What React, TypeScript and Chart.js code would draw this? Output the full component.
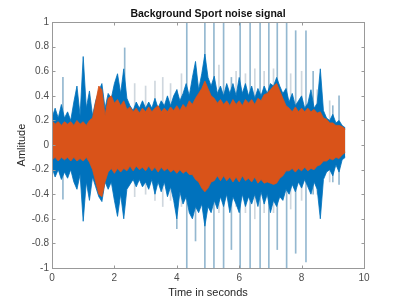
import React, { useEffect, useRef } from 'react';
import { Chart, registerables } from 'chart.js';

Chart.register(...registerables);

// Time bins (seconds)
const times = [
  0.0, 0.1, 0.2, 0.3, 0.4, 0.5, 0.6, 0.7, 0.8, 0.9,
  1.0, 1.1, 1.2, 1.3, 1.4, 1.5, 1.6, 1.7, 1.8, 1.9,
  2.0, 2.1, 2.2, 2.3, 2.4, 2.5, 2.6, 2.7, 2.8, 2.9,
  3.0, 3.1, 3.2, 3.3, 3.4, 3.5, 3.6, 3.7, 3.8, 3.9,
  4.0, 4.1, 4.2, 4.3, 4.4, 4.5, 4.6, 4.7, 4.8, 4.9,
  5.0, 5.1, 5.2, 5.3, 5.4, 5.5, 5.6, 5.7, 5.8, 5.9,
  6.0, 6.1, 6.2, 6.3, 6.4, 6.5, 6.6, 6.7, 6.8, 6.9,
  7.0, 7.1, 7.2, 7.3, 7.4, 7.5, 7.6, 7.7, 7.8, 7.9,
  8.0, 8.1, 8.2, 8.3, 8.4, 8.5, 8.6, 8.7, 8.8, 8.9,
  9.0, 9.1, 9.2, 9.3, 9.4,
];

// Blue signal envelope (max / min per bin)
const blueUpper = [
  0.22, 0.30, 0.22, 0.33, 0.22, 0.27, 0.20, 0.35, 0.48, 0.24,
  0.72, 0.30, 0.44, 0.24, 0.36, 0.44, 0.50, 0.30, 0.42, 0.38,
  0.50, 0.58, 0.42, 0.62, 0.38, 0.32, 0.28, 0.35, 0.30, 0.36,
  0.30, 0.35, 0.30, 0.38, 0.30, 0.36, 0.32, 0.40, 0.32, 0.40,
  0.45, 0.36, 0.42, 0.50, 0.40, 0.55, 0.68, 0.45, 0.58, 0.74,
  0.55, 0.48, 0.56, 0.42, 0.48, 0.40, 0.50, 0.42, 0.50, 0.40,
  0.55, 0.42, 0.50, 0.40, 0.48, 0.38, 0.46, 0.40, 0.48, 0.42,
  0.50, 0.48, 0.55, 0.48, 0.42, 0.46, 0.35, 0.42, 0.32, 0.36,
  0.40, 0.30, 0.34, 0.45, 0.30, 0.34, 0.62, 0.28, 0.22, 0.20,
  0.25, 0.18, 0.20, 0.16, 0.14,
];
const blueLower = [
  -0.18, -0.26, -0.20, -0.28, -0.22, -0.27, -0.20, -0.30, -0.36, -0.24,
  -0.62, -0.30, -0.45, -0.26, -0.34, -0.42, -0.46, -0.30, -0.36, -0.30,
  -0.45, -0.58, -0.40, -0.60, -0.36, -0.32, -0.28, -0.34, -0.28, -0.34,
  -0.30, -0.36, -0.28, -0.40, -0.30, -0.38, -0.30, -0.42, -0.34, -0.45,
  -0.60, -0.38, -0.48, -0.42, -0.55, -0.60, -0.50, -0.55, -0.48, -0.66,
  -0.50, -0.55, -0.45, -0.52, -0.42, -0.50, -0.40, -0.55, -0.42, -0.48,
  -0.55, -0.40, -0.50, -0.42, -0.48, -0.40, -0.50, -0.38, -0.48, -0.40,
  -0.55, -0.45, -0.50, -0.42, -0.45, -0.36, -0.40, -0.32, -0.38, -0.30,
  -0.35, -0.28, -0.34, -0.40, -0.30, -0.36, -0.60, -0.28, -0.22, -0.20,
  -0.25, -0.16, -0.22, -0.12, -0.10,
];

// Orange signal envelope (max / min per bin)
const orangeUpper = [
  0.20, 0.17, 0.19, 0.16, 0.19, 0.17, 0.19, 0.16, 0.20, 0.17,
  0.19, 0.16, 0.20, 0.22, 0.35, 0.48, 0.45, 0.24, 0.38, 0.40,
  0.34, 0.37, 0.32, 0.36, 0.29, 0.31, 0.27, 0.30, 0.26, 0.30,
  0.27, 0.31, 0.27, 0.30, 0.32, 0.27, 0.30, 0.27, 0.31, 0.28,
  0.32, 0.28, 0.33, 0.30, 0.36, 0.33, 0.38, 0.42, 0.46, 0.52,
  0.46, 0.40, 0.38, 0.34, 0.37, 0.33, 0.36, 0.32, 0.37, 0.33,
  0.36, 0.32, 0.37, 0.34, 0.37, 0.33, 0.38, 0.36, 0.41, 0.42,
  0.45, 0.48, 0.50, 0.44, 0.38, 0.32, 0.30, 0.27, 0.31, 0.27,
  0.30, 0.27, 0.30, 0.27, 0.29, 0.26, 0.27, 0.22, 0.21, 0.18,
  0.18, 0.16, 0.16, 0.15, 0.13,
];
const orangeLower = [
  -0.12, -0.10, -0.13, -0.10, -0.12, -0.10, -0.13, -0.10, -0.13, -0.11,
  -0.13, -0.10, -0.14, -0.20, -0.30, -0.40, -0.42, -0.30, -0.22, -0.19,
  -0.23, -0.19, -0.22, -0.19, -0.21, -0.17, -0.21, -0.17, -0.20, -0.18,
  -0.21, -0.17, -0.21, -0.18, -0.22, -0.18, -0.21, -0.19, -0.22, -0.20,
  -0.23, -0.20, -0.23, -0.21, -0.24, -0.24, -0.28, -0.30, -0.35, -0.38,
  -0.35, -0.30, -0.29, -0.25, -0.29, -0.25, -0.29, -0.26, -0.30, -0.26,
  -0.30, -0.25, -0.29, -0.27, -0.30, -0.26, -0.31, -0.28, -0.31, -0.30,
  -0.31, -0.32, -0.31, -0.27, -0.25, -0.21, -0.21, -0.19, -0.22, -0.19,
  -0.21, -0.18, -0.21, -0.19, -0.20, -0.17, -0.16, -0.13, -0.13, -0.11,
  -0.12, -0.10, -0.11, -0.08, -0.06,
];

// Isolated blue impulse spikes
const spikeTimes = [0.35, 2.33, 4.0, 4.32, 4.6, 4.9, 5.19, 5.5, 5.75, 6.03, 6.35, 6.67, 6.95, 7.22, 7.52, 7.81, 8.14, 8.37, 9.0, 9.2];
const spikeTops = [0.55, 0.79, 0.45, 1.0, 0.62, 1.0, 1.0, 1.0, 0.55, 1.0, 1.0, 1.0, 1.0, 1.0, 1.0, 0.93, 0.93, 0.6, 0.32, 0.4];
const spikeBottoms = [-0.44, -0.3, -0.68, -1.0, -0.78, -1.0, -1.0, -1.0, -0.85, -1.0, -1.0, -1.0, -1.0, -0.85, -1.0, -0.88, -0.95, -0.4, -0.3, -0.32];

// Faint narrow peaks
const faintTimes = [2.65, 3.0, 3.3, 3.55, 3.8, 4.15, 5.35, 5.9, 6.2, 6.5, 6.8, 7.1, 7.65, 8.0, 8.5, 8.9];
const faintTops = [0.5, 0.48, 0.52, 0.55, 0.5, 0.58, 0.65, 0.6, 0.58, 0.62, 0.6, 0.62, 0.58, 0.6, 0.45, 0.36];
const faintBottoms = [-0.42, -0.4, -0.45, -0.5, -0.45, -0.5, -0.55, -0.5, -0.55, -0.6, -0.55, -0.55, -0.52, -0.45, -0.4, -0.3];

const xTickLabels = ['0', '2', '4', '6', '8', '10'];
const yTickLabels = ['-1', '-0.8', '-0.6', '-0.4', '-0.2', '0', '0.2', '0.4', '0.6', '0.8', '1'];

const BLUE = '#0072BD';
const ORANGE = '#D95319';
const FONT = "'Liberation Sans', Arial, Helvetica, sans-serif";

const matlabBox = {
  id: 'matlabBox',
  afterDatasetsDraw(chart: any) {
    const { ctx, chartArea: a, scales } = chart;
    const L = Math.round(a.left) + 0.5;
    const R = Math.round(a.right) + 0.5;
    const T = Math.round(a.top) + 0.5;
    const B = Math.round(a.bottom) + 0.5;
    ctx.save();
    ctx.strokeStyle = '#999999';
    ctx.lineWidth = 1;
    ctx.strokeRect(L, T, R - L, B - T);
    const tl = 3;
    ctx.beginPath();
    scales.x.ticks.forEach((t: any) => {
      const px = Math.round(scales.x.getPixelForValue(t.value)) + 0.5;
      ctx.moveTo(px, B);
      ctx.lineTo(px, B - tl);
      ctx.moveTo(px, T);
      ctx.lineTo(px, T + tl);
    });
    scales.y.ticks.forEach((t: any) => {
      const py = Math.round(scales.y.getPixelForValue(t.value)) + 0.5;
      ctx.moveTo(L, py);
      ctx.lineTo(L + tl, py);
      ctx.moveTo(R, py);
      ctx.lineTo(R - tl, py);
    });
    ctx.stroke();
    ctx.restore();
  },
};

export default function App() {
  const ref = useRef<HTMLCanvasElement | null>(null);

  useEffect(() => {
    if (!ref.current) return;
    const env = (ys: number[]) => times.map((t, i) => ({ x: t, y: ys[i] }));
    const bars = (ts: number[], lo: number[], hi: number[]) =>
      ts.map((t, i) => ({ x: t, y: [lo[i], hi[i]] }));
    const lineBase = { pointRadius: 0, borderWidth: 0.8, tension: 0 };

    const chart = new Chart(ref.current, {
      type: 'line',
      data: {
        datasets: [
          { ...lineBase, data: env(orangeUpper), borderColor: ORANGE, backgroundColor: ORANGE, fill: '+1' },
          { ...lineBase, data: env(orangeLower), borderColor: ORANGE, backgroundColor: ORANGE, fill: false },
          { ...lineBase, data: env(blueUpper), borderColor: BLUE, backgroundColor: BLUE, fill: '+1' },
          { ...lineBase, data: env(blueLower), borderColor: BLUE, backgroundColor: BLUE, fill: false },
          {
            type: 'bar',
            data: bars(spikeTimes, spikeBottoms, spikeTops),
            backgroundColor: 'rgba(60,125,170,0.55)',
            barThickness: 1,
            grouped: false,
          },
          {
            type: 'bar',
            data: bars(faintTimes, faintBottoms, faintTops),
            backgroundColor: 'rgba(160,175,190,0.5)',
            barThickness: 1,
            grouped: false,
          },
        ] as any,
      },
      options: {
        responsive: false,
        animation: false,
        events: [],
        layout: { padding: { right: 39, left: 0, top: 0, bottom: 0 } },
        plugins: {
          legend: { display: false },
          tooltip: { enabled: false },
          title: {
            display: true,
            fullSize: false,
            text: 'Background Sport noise signal',
            color: '#111111',
            font: { family: FONT, size: 10.5, weight: 'bold' },
            padding: { top: 8, bottom: 1.5 },
          },
        },
        scales: {
          x: {
            type: 'linear',
            min: 0,
            max: 10,
            offset: false,
            grid: { display: false, drawTicks: false, offset: false },
            border: { display: false },
            ticks: {
              stepSize: 2,
              autoSkip: false,
              maxRotation: 0,
              padding: 4,
              color: '#4d4d4d',
              font: { family: FONT, size: 10 },
              callback: (_v: any, i: number) => xTickLabels[i],
            },
            title: {
              display: true,
              text: 'Time in seconds',
              color: '#262626',
              font: { family: FONT, size: 11 },
              padding: { top: 0, bottom: 2 },
            },
            afterFit: (s: any) => {
              s.height = 34;
            },
          },
          y: {
            type: 'linear',
            min: -1,
            max: 1,
            grid: { display: false, drawTicks: false },
            border: { display: false },
            ticks: {
              stepSize: 0.2,
              autoSkip: false,
              padding: 3,
              color: '#4d4d4d',
              font: { family: FONT, size: 10 },
              callback: (_v: any, i: number) => yTickLabels[i],
            },
            title: {
              display: true,
              text: 'Amlitude',
              color: '#262626',
              font: { family: FONT, size: 11 },
              padding: { top: 15, bottom: 0 },
            },
            afterFit: (s: any) => {
              s.width = 52;
            },
          },
        },
      } as any,
      plugins: [matlabBox],
    });
    return () => chart.destroy();
  }, []);

  return (
    <div style={{ position: 'fixed', left: 0, top: 0, width: 403, height: 302, background: '#ffffff' }}>
      <canvas ref={ref} width={403} height={302} style={{ width: 403, height: 302, display: 'block' }} />
    </div>
  );
}
